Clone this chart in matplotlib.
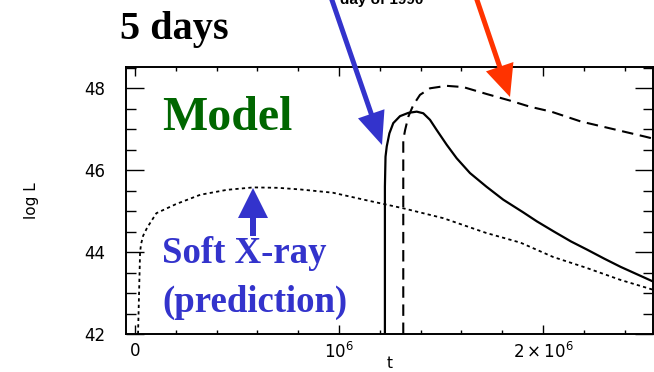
import matplotlib
matplotlib.use("Agg")
import matplotlib.pyplot as plt
from matplotlib.patches import FancyArrow
from matplotlib.ticker import MultipleLocator, FixedLocator, FixedFormatter
from matplotlib.transforms import Affine2D

# ---- data (t in units of 1e6) ----
soft_t = [0.015, 0.02, 0.025, 0.03, 0.04, 0.06, 0.105, 0.2, 0.32, 0.45, 0.58, 0.7, 0.81,
          0.97, 1.14, 1.315, 1.51, 1.72, 1.89, 2.05, 2.21, 2.38, 2.54]
soft_L = [42.0, 43.0, 44.0, 44.2, 44.4, 44.6, 44.95, 45.17, 45.4, 45.52, 45.58, 45.57, 45.53,
          45.45, 45.26, 45.07, 44.83, 44.47, 44.23, 43.88, 43.62, 43.32, 43.08]

solid_t = [1.225, 1.225, 1.228, 1.234, 1.247, 1.266, 1.299, 1.34, 1.381, 1.413, 1.446,
           1.479, 1.528, 1.577, 1.642, 1.722, 1.805, 1.903, 1.97, 2.054, 2.137, 2.216,
           2.30, 2.38, 2.54]
solid_L = [42.0, 45.6, 46.33, 46.58, 46.90, 47.15, 47.32, 47.40, 47.43, 47.39, 47.23,
           46.98, 46.62, 46.29, 45.93, 45.6, 45.28, 44.97, 44.75, 44.50, 44.26, 44.06,
           43.84, 43.64, 43.28]

dash_t = [1.315, 1.315, 1.324, 1.34, 1.364, 1.397, 1.446, 1.527, 1.609, 1.724, 1.838,
          1.936, 2.04, 2.185, 2.33, 2.5, 2.54]
dash_L = [42.0, 46.74, 46.98, 47.31, 47.59, 47.84, 48.0, 48.06, 48.03, 47.86, 47.70,
          47.55, 47.43, 47.19, 47.02, 46.82, 46.77]

xticks = [0, 1, 2]
xticklabels = ["0", r"$10^6$", r"$2\times10^6$"]
yticks = [42, 44, 46, 48]
yticklabels = ["42", "44", "46", "48"]

W, H = 654, 372
plt.rcParams["mathtext.fontset"] = "dejavusans"
fig = plt.figure(figsize=(W / 100, H / 100), dpi=100)
ax = fig.add_axes([126 / W, 1 - 334 / H, (653 - 126) / W, (334 - 67) / H])

ax.plot(soft_t, soft_L, color="black", lw=1.3, linestyle=(0, (1.8, 1.8)))
ax.plot(solid_t, solid_L, color="black", lw=1.6, solid_joinstyle="round")
ax.plot(dash_t, dash_L, color="black", lw=1.5, linestyle=(0, (5.5, 3.2)))

ax.set_xlim(-0.044, 2.539)
ax.set_ylim(42, 48.52)

ax.xaxis.set_major_locator(FixedLocator(xticks))
ax.xaxis.set_major_formatter(FixedFormatter(xticklabels))
ax.xaxis.set_minor_locator(MultipleLocator(0.2))
ax.yaxis.set_major_locator(FixedLocator(yticks))
ax.yaxis.set_major_formatter(FixedFormatter(yticklabels))
ax.yaxis.set_minor_locator(MultipleLocator(0.5))

ax.tick_params(which="both", direction="in", top=True, right=True, width=1.0, color="black")
ax.tick_params(axis="x", which="major", length=6.5, pad=6, labelsize=12)
ax.tick_params(axis="x", which="minor", length=3.2)
ax.tick_params(axis="y", which="major", length=13, pad=15, labelsize=12)
ax.tick_params(axis="y", which="minor", length=7)
for s in ax.spines.values():
    s.set_linewidth(1.4)

ax.set_ylabel("log L", fontsize=11, va="center")
ax.yaxis.set_label_coords(-0.18, 0.5)
ax.set_xlabel("t", fontsize=11, va="center")
ax.xaxis.set_label_coords(0.501, -0.112)

# pixel transform (origin top-left)
T = Affine2D().scale(1, -1).translate(0, H).scale(1 / 100) + fig.dpi_scale_trans

fig.text(120, 39, "5 days", transform=T, fontsize=29, fontweight="bold",
         family="Liberation Serif", va="baseline", ha="left")
fig.text(162, 130, "Model", transform=T, fontsize=34.5, fontweight="bold",
         family="Liberation Serif", color="#006600", va="baseline", ha="left")
fig.text(162, 263, "Soft X-ray", transform=T, fontsize=26.5, fontweight="bold",
         family="Liberation Serif", color="#3333cc", va="baseline", ha="left")
fig.text(162, 312, "(prediction)", transform=T, fontsize=26.5, fontweight="bold",
         family="Liberation Serif", color="#3333cc", va="baseline", ha="left")
fig.text(340, 4, "day of 1990", transform=T, fontsize=11, fontweight="bold",
         family="Liberation Sans", va="baseline", ha="left")

def arrow(x0, y0, x1, y1, color, width, hw, hl):
    a = FancyArrow(x0, y0, x1 - x0, y1 - y0, width=width, head_width=hw, head_length=hl,
                   length_includes_head=True, color=color, transform=T, clip_on=False, lw=0)
    fig.add_artist(a)

arrow(328.5, -10, 382, 145, "#3333cc", 5, 28, 33)
arrow(473.6, -10, 510, 97, "#ff3300", 5, 29, 32)
arrow(253, 236, 253, 188, "#3333cc", 6, 30, 30)

fig.savefig("out.png", dpi=100)
